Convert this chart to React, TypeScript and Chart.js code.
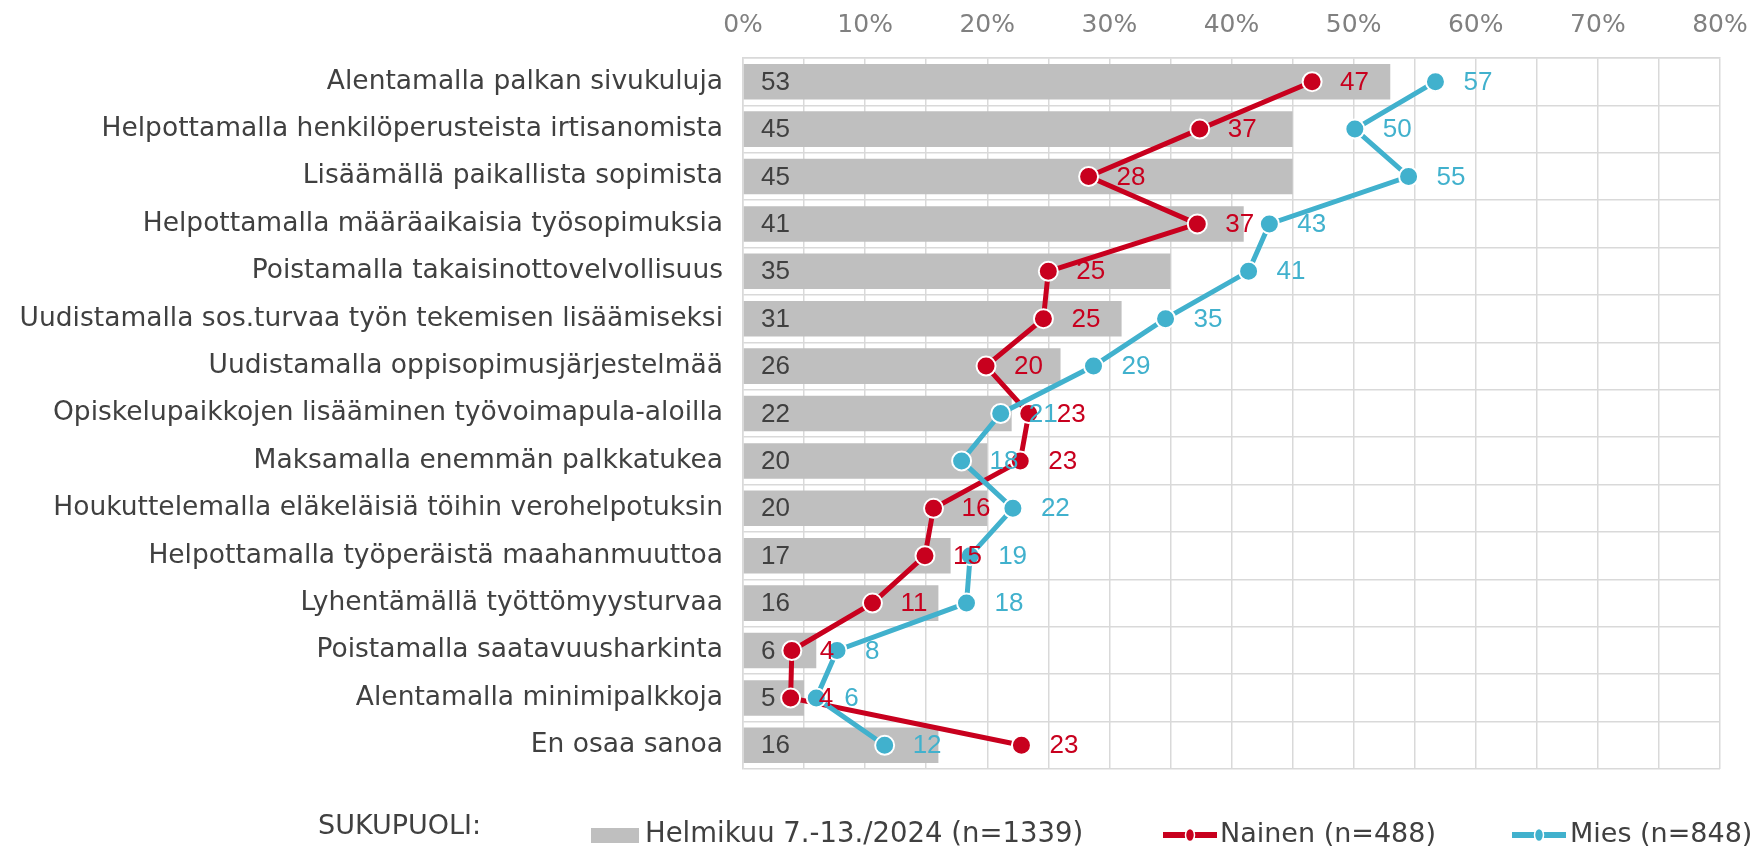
import React, { useEffect, useRef } from "react";
import { Chart, registerables } from "chart.js";

Chart.register(...registerables);

const categories = [
  "Alentamalla palkan sivukuluja",
  "Helpottamalla henkilöperusteista irtisanomista",
  "Lisäämällä paikallista sopimista",
  "Helpottamalla määräaikaisia työsopimuksia",
  "Poistamalla takaisinottovelvollisuus",
  "Uudistamalla sos.turvaa työn tekemisen lisäämiseksi",
  "Uudistamalla oppisopimusjärjestelmää",
  "Opiskelupaikkojen lisääminen työvoimapula-aloilla",
  "Maksamalla enemmän palkkatukea",
  "Houkuttelemalla eläkeläisiä töihin verohelpotuksin",
  "Helpottamalla työperäistä maahanmuuttoa",
  "Lyhentämällä työttömyysturvaa",
  "Poistamalla saatavuusharkinta",
  "Alentamalla minimipalkkoja",
  "En osaa sanoa",
];

const totalValues = [53, 45, 45, 41, 35, 31, 26, 22, 20, 20, 17, 16, 6, 5, 16];
const naisetValues = [46.6, 37.4, 28.3, 37.2, 25.0, 24.6, 19.9, 23.4, 22.7, 15.6, 14.9, 10.6, 4.0, 3.9, 22.8];
const miehetValues = [56.7, 50.1, 54.5, 43.1, 41.4, 34.6, 28.7, 21.1, 17.9, 22.1, 18.6, 18.3, 7.7, 6.0, 11.6];

const xTicks = [0, 10, 20, 30, 40, 50, 60, 70, 80];

const legendTitle = "SUKUPUOLI:";
const seriesNames = ["Helmikuu 7.-13./2024 (n=1339)", "Nainen (n=488)", "Mies (n=848)"];

const GRAY = "#BFBFBF";
const RED = "#C8001E";
const BLUE = "#41B1CD";
const TEXT = "#404040";
const ARIAL = "'Liberation Sans', Arial, sans-serif";
const VERDANA = "'DejaVu Sans', Verdana, sans-serif";

const labelPlugin = {
  id: "valueLabels",
  afterDatasetsDraw(chart: any) {
    const ctx = chart.ctx;
    const area = chart.chartArea;
    ctx.save();
    ctx.font = `26px ${ARIAL}`;
    ctx.textBaseline = "middle";
    ctx.textAlign = "left";
    const barMeta = chart.getDatasetMeta(0);
    barMeta.data.forEach((el: any, i: number) => {
      ctx.fillStyle = TEXT;
      ctx.fillText(String(totalValues[i]), area.left + 18, el.y + 1);
    });
    [1, 2].forEach((di) => {
      const meta = chart.getDatasetMeta(di);
      const ds = chart.data.datasets[di];
      meta.data.forEach((el: any, i: number) => {
        ctx.fillStyle = ds.borderColor;
        ctx.fillText(String(Math.round(ds.data[i])), el.x + 28, el.y + 1);
      });
    });
    ctx.restore();
  },
  afterDraw(chart: any) {
    const ctx = chart.ctx;
    ctx.save();
    ctx.font = `27px ${VERDANA}`;
    ctx.textBaseline = "middle";
    ctx.textAlign = "left";
    const y = 835;
    ctx.fillStyle = TEXT;
    ctx.fillText(legendTitle, 318, 827);
    ctx.fillStyle = GRAY;
    ctx.fillRect(591, 828, 48, 15);
    ctx.fillStyle = TEXT;
    ctx.font = `27.5px ${VERDANA}`;
    ctx.fillText(seriesNames[0], 645, y);
    ctx.font = `27px ${VERDANA}`;
    const drawLineMarker = (x: number, color: string) => {
      ctx.strokeStyle = color;
      ctx.lineWidth = 6;
      ctx.beginPath();
      ctx.moveTo(x, y);
      ctx.lineTo(x + 54, y);
      ctx.stroke();
      ctx.beginPath();
      ctx.ellipse(x + 27, y, 4.5, 6.5, 0, 0, Math.PI * 2);
      ctx.fillStyle = color;
      ctx.fill();
      ctx.strokeStyle = "#fff";
      ctx.lineWidth = 1.5;
      ctx.stroke();
    };
    drawLineMarker(1163, RED);
    ctx.fillStyle = TEXT;
    ctx.fillText(seriesNames[1], 1220, y);
    drawLineMarker(1512, BLUE);
    ctx.fillStyle = TEXT;
    ctx.fillText(seriesNames[2], 1570, y);
    ctx.restore();
  },
};

export default function App() {
  const ref = useRef<HTMLCanvasElement>(null);
  useEffect(() => {
    if (!ref.current) return;
    const lineDs = (label: string, data: number[], color: string, order: number) =>
      ({
        type: "line",
        label,
        data,
        indexAxis: "y",
        borderColor: color,
        backgroundColor: color,
        borderWidth: 5,
        pointRadius: 9.5,
        pointBorderColor: "#fff",
        pointBorderWidth: 2,
        pointBackgroundColor: color,
        fill: false,
        tension: 0,
        order,
      } as any);
    const chart = new Chart(ref.current, {
      type: "bar",
      data: {
        labels: categories,
        datasets: [
          {
            type: "bar",
            label: seriesNames[0],
            data: totalValues,
            backgroundColor: GRAY,
            borderWidth: 0,
            categoryPercentage: 1,
            barPercentage: 0.75,
            order: 3,
          } as any,
          lineDs(seriesNames[1], naisetValues, RED, 2),
          lineDs(seriesNames[2], miehetValues, BLUE, 1),
        ],
      },
      options: {
        indexAxis: "y",
        animation: false,
        responsive: false,
        maintainAspectRatio: false,
        layout: { padding: { left: 0, right: 37, top: 0, bottom: 81 } },
        plugins: {
          legend: { display: false },
          tooltip: { enabled: false },
        },
        scales: {
          x: {
            position: "top",
            min: 0,
            max: 80,
            ticks: {
              stepSize: 5,
              callback: (v: any) => (xTicks.includes(Number(v)) ? v + "%" : ""),
              color: "#808080",
              font: { family: VERDANA, size: 25 },
              padding: 18,
              maxRotation: 0,
              autoSkip: false,
            },
            grid: { color: "#D9D9D9", lineWidth: 1.5, drawTicks: false },
            border: { color: "#D9D9D9", width: 1.5 },
            afterFit: (s: any) => {
              s.height = 58;
              s.paddingRight = 0;
              s.paddingLeft = 0;
            },
          },
          y: {
            ticks: {
              color: TEXT,
              font: { family: VERDANA, size: 26.5 },
              padding: 20,
              autoSkip: false,
            },
            grid: { color: "#D9D9D9", lineWidth: 1.5, drawTicks: false, offset: true },
            border: { color: "#D9D9D9", width: 1.5 },
            afterFit: (s: any) => {
              s.width = 743;
              s.paddingTop = 0;
              s.paddingBottom = 0;
            },
          },
        },
      } as any,
      plugins: [labelPlugin],
    });
    return () => chart.destroy();
  }, []);
  return (
    <div style={{ position: "fixed", left: 0, top: 0, width: 1757, height: 850, background: "#fff" }}>
      <canvas ref={ref} width={1757} height={850} style={{ width: 1757, height: 850 }} />
    </div>
  );
}
